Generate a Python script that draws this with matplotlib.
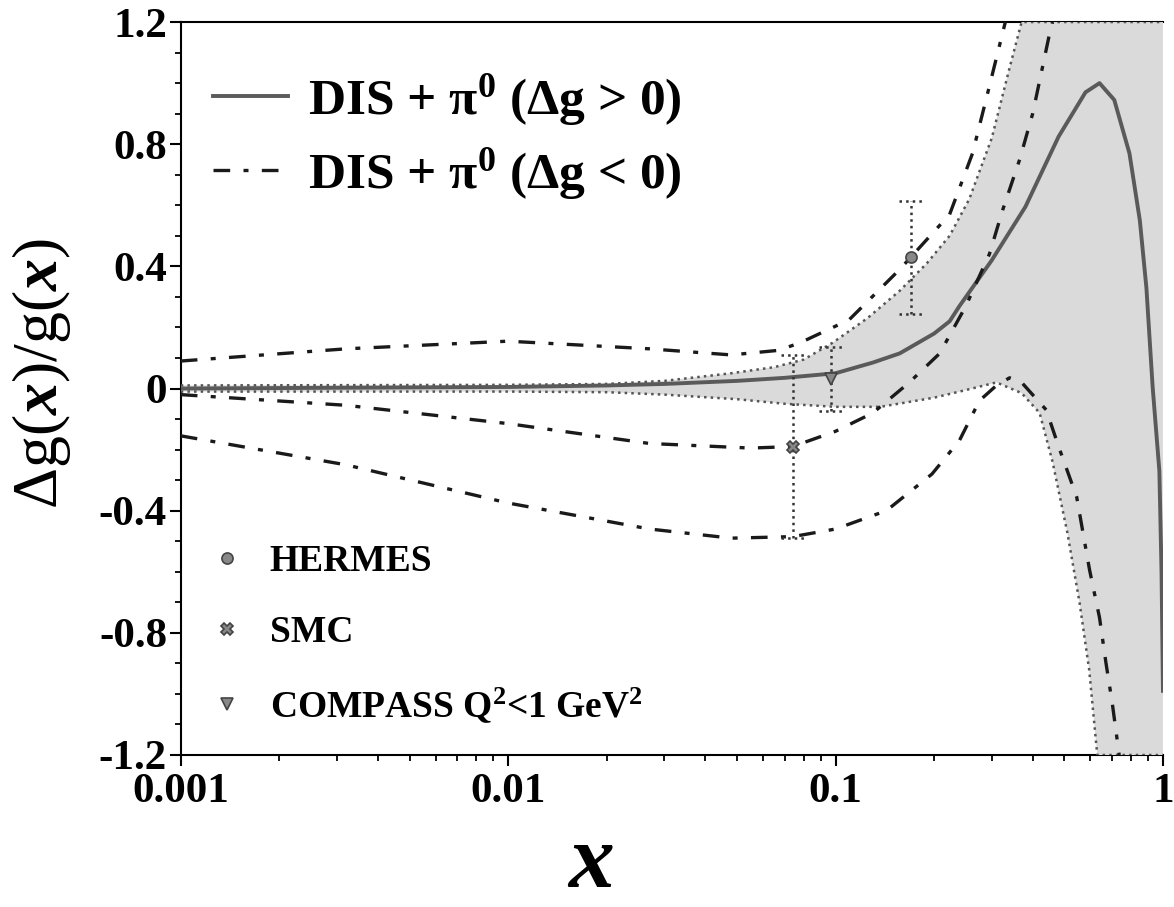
import numpy as np
import matplotlib
matplotlib.use("Agg")
import matplotlib.pyplot as plt
from matplotlib.lines import Line2D

plt.rcParams['font.family'] = ['Liberation Serif', 'DejaVu Serif']
plt.rcParams['font.weight'] = 'bold'
plt.rcParams['mathtext.fontset'] = 'custom'
plt.rcParams['mathtext.rm'] = 'Liberation Serif:bold'
plt.rcParams['mathtext.bf'] = 'Liberation Serif:bold'
plt.rcParams['mathtext.it'] = 'Liberation Serif:bold:italic'
plt.rcParams['mathtext.default'] = 'bf'
plt.rcParams['axes.unicode_minus'] = False
plt.rcParams['hatch.color'] = '#a0a0a0'
plt.rcParams['hatch.linewidth'] = 1.4

# error band of the dg > 0 fit (dotted edges)
band_up_x = [0.001, 0.01, 0.02, 0.03, 0.048, 0.065, 0.08, 0.098, 0.125, 0.157, 0.19, 0.223, 0.256, 0.30, 0.34, 0.37, 1.0]
band_up_y = [0.01, 0.012, 0.015, 0.025, 0.05, 0.07, 0.095, 0.15, 0.23, 0.32, 0.41, 0.50, 0.62, 0.82, 1.05, 1.2, 1.2]
band_lo_x = [0.001, 0.01, 0.02, 0.03, 0.05, 0.07, 0.1, 0.137, 0.2, 0.25, 0.31, 0.37, 0.42, 0.46, 0.51, 0.556, 0.595, 0.63, 1.0]
band_lo_y = [-0.01, -0.01, -0.012, -0.02, -0.035, -0.05, -0.06, -0.06, -0.03, -0.005, 0.02, -0.015, -0.08, -0.24, -0.47, -0.70, -0.92, -1.2, -1.2]

# central dg > 0 curve
pos_x = [0.001, 0.01, 0.02, 0.03, 0.05, 0.07, 0.1, 0.13, 0.157, 0.2, 0.223, 0.239, 0.30, 0.38, 0.48, 0.58,
         0.64, 0.71, 0.79, 0.85, 0.89, 0.93, 0.975, 0.99, 1.0]
pos_y = [0.0, 0.005, 0.01, 0.015, 0.025, 0.035, 0.05, 0.085, 0.115, 0.18, 0.22, 0.27, 0.42, 0.595, 0.825, 0.97,
         1.0, 0.945, 0.77, 0.55, 0.33, 0.005, -0.27, -0.6, -0.99]

# dg < 0 fit: upper, central, lower
neg_up_x = [0.001, 0.0032, 0.01, 0.027, 0.048, 0.067, 0.078, 0.11, 0.157, 0.223, 0.262, 0.295, 0.33]
neg_up_y = [0.09, 0.13, 0.155, 0.13, 0.11, 0.125, 0.15, 0.225, 0.39, 0.57, 0.77, 0.99, 1.2]
neg_mid_x = [0.001, 0.0032, 0.01, 0.027, 0.055, 0.074, 0.1, 0.13, 0.168, 0.208, 0.25, 0.295, 0.324, 0.365, 0.40, 0.45, 0.46]
neg_mid_y = [-0.02, -0.055, -0.115, -0.18, -0.195, -0.19, -0.14, -0.08, 0.02, 0.115, 0.27, 0.44, 0.585, 0.75, 0.9, 1.16, 1.2]
neg_lo_x = [0.001, 0.0032, 0.01, 0.027, 0.048, 0.074, 0.1, 0.143, 0.197, 0.239, 0.275, 0.31, 0.34, 0.37, 0.44, 0.48,
            0.545, 0.597, 0.64, 0.67, 0.70, 0.735]
neg_lo_y = [-0.155, -0.25, -0.375, -0.46, -0.49, -0.485, -0.46, -0.40, -0.28, -0.17, -0.04, 0.01, 0.035, 0.02, -0.07, -0.19,
            -0.355, -0.595, -0.75, -0.9, -1.03, -1.2]

# measurements
exp_names = ['HERMES', 'SMC', 'COMPASS Q$^{2}$<1 GeV$^{2}$']
exp_x = [0.17, 0.074, 0.097]
exp_y = [0.43, -0.19, 0.03]
exp_err = [0.185, 0.30, 0.105]
exp_markers = ['o', 'X', 'v']

yticks = [-1.2, -0.8, -0.4, 0, 0.4, 0.8, 1.2]
ytick_labels = ['-1.2', '-0.8', '-0.4', '0', '0.4', '0.8', '1.2']
xticks = [0.001, 0.01, 0.1, 1]
xtick_labels = ['0.001', '0.01', '0.1', '1']

fig = plt.figure(figsize=(11.74, 9.07), dpi=100)
ax = fig.add_axes([0.154, 0.1676, 0.8366, 0.8081])

# shaded band
poly_x = np.concatenate([band_up_x, band_lo_x[::-1]])
poly_y = np.concatenate([band_up_y, band_lo_y[::-1]])
ax.fill(poly_x, poly_y, facecolor='#dadada', edgecolor='none', hatch='..', zorder=3)
ax.plot(band_up_x, band_up_y, ls=':', color='#555555', lw=1.8, zorder=4)
ax.plot(band_lo_x, band_lo_y, ls=':', color='#555555', lw=1.8, zorder=4)

dashdot = (0, (5, 4, 1.5, 4))
ax.plot(pos_x, pos_y, color='#5a5a5a', lw=2.8, zorder=5)
for xs, ys in [(neg_up_x, neg_up_y), (neg_mid_x, neg_mid_y), (neg_lo_x, neg_lo_y)]:
    ax.plot(xs, ys, color='#1a1a1a', lw=2.4, ls=dashdot, zorder=5)

# data points with dotted error bars
pts = []
for x, y, e, m in zip(exp_x, exp_y, exp_err, exp_markers):
    eb = ax.errorbar([x], [y], yerr=[e], fmt='none', ecolor='#333333', elinewidth=1.8, zorder=6)
    eb[2][0].set_linestyle(':')
    for yc in (y - e, y + e):
        ax.plot([x / 1.09, x * 1.09], [yc, yc], ls=':', color='#333333', lw=1.8, zorder=6)
    pts.append(ax.plot([x], [y], marker=m, ls='none', ms=8, mfc='#888888', mec='#444444',
                       mew=1.2, zorder=7)[0])

ax.set_xscale('log')
ax.set_xlim(0.001, 1)
ax.set_ylim(-1.2, 1.2)
ax.set_xticks(xticks)
ax.set_xticklabels(xtick_labels)
ax.set_yticks(yticks)
ax.set_yticklabels(ytick_labels)
ax.set_yticks(np.arange(-1.2, 1.21, 0.1), minor=True)
ax.tick_params(axis='both', which='major', labelsize=31, length=8, width=1.5, pad=2)
ax.tick_params(axis='x', which='major', pad=5)
ax.tick_params(axis='both', which='minor', length=4.5, width=1.3)
ax.tick_params(top=False, right=False, which='both')
for s in ax.spines.values():
    s.set_linewidth(1.5)
ax.spines['right'].set_visible(False)

ax.set_ylabel(r'Δg($\mathit{x}$)/g($\mathit{x}$)', fontsize=46)
ax.yaxis.set_label_coords(-0.11, 0.52)
ax.set_xlabel(r'$\mathit{x}$', fontsize=66)
ax.xaxis.set_label_coords(0.4165, -0.093)

line_handles = [Line2D([], [], color='#5a5a5a', lw=2.8),
                Line2D([], [], color='#1a1a1a', lw=2.4, ls=dashdot)]
leg1 = ax.legend(line_handles, ['DIS + π$^{0}$ (Δg > 0)', 'DIS + π$^{0}$ (Δg < 0)'],
                 loc='upper left', bbox_to_anchor=(0.012, 0.96), frameon=False, fontsize=37,
                 handlelength=1.45, handletextpad=0.4, labelspacing=0.35, borderaxespad=0)
ax.add_artist(leg1)
ax.legend(pts, exp_names, loc='lower left', bbox_to_anchor=(0.02, 0.02), frameon=False, fontsize=27,
          handlelength=0.6, handletextpad=0.85, labelspacing=0.95, borderaxespad=0)

fig.savefig('out.png', dpi=100)
